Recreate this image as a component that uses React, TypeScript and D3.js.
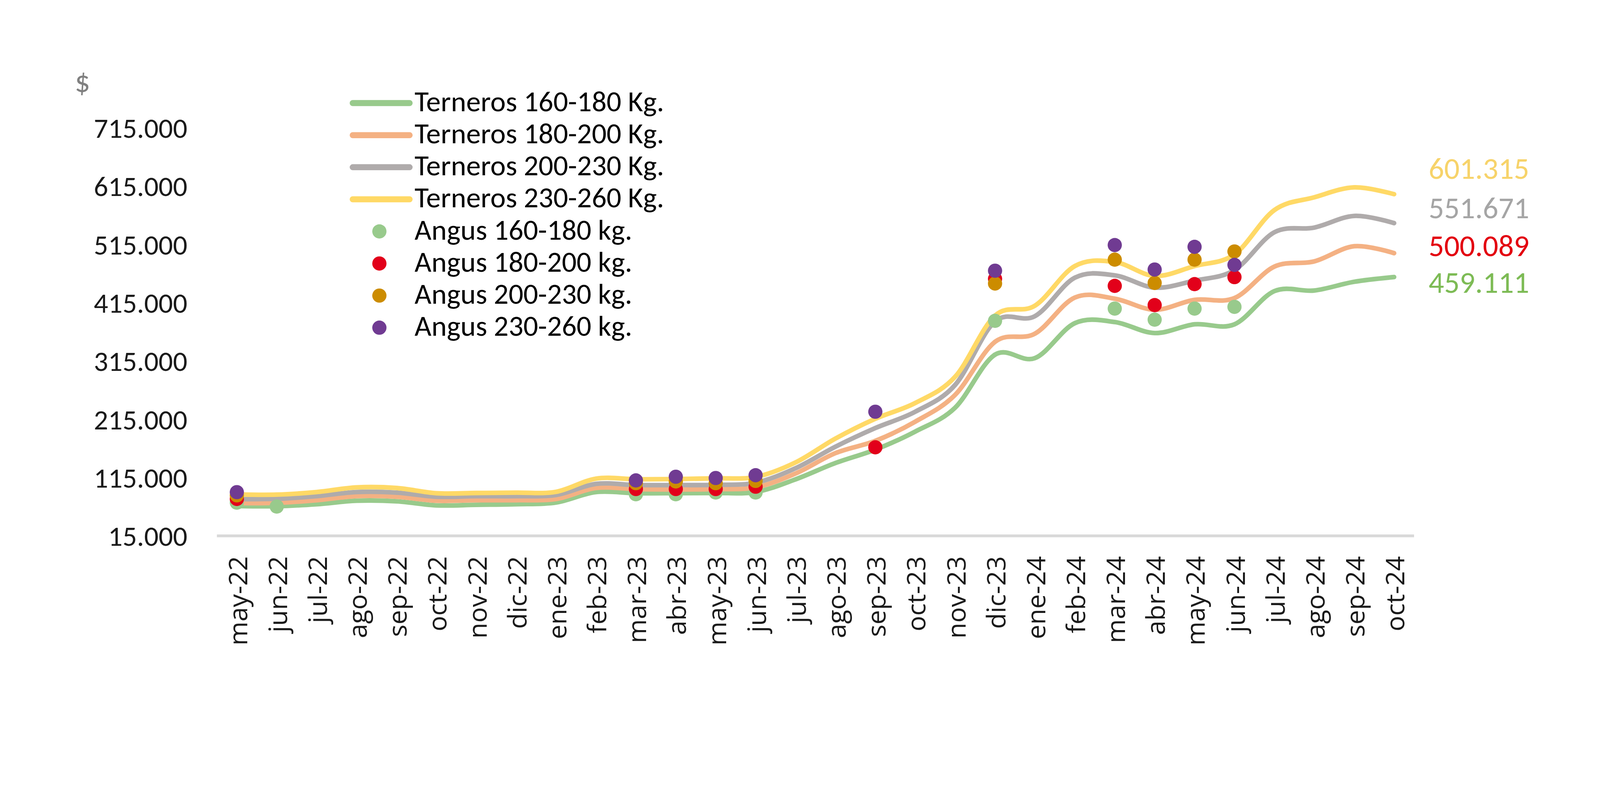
import { useRef, useEffect } from 'react';
import * as d3 from 'd3';

const months = [
  'may-22', 'jun-22', 'jul-22', 'ago-22', 'sep-22', 'oct-22', 'nov-22', 'dic-22',
  'ene-23', 'feb-23', 'mar-23', 'abr-23', 'may-23', 'jun-23', 'jul-23', 'ago-23',
  'sep-23', 'oct-23', 'nov-23', 'dic-23', 'ene-24', 'feb-24', 'mar-24', 'abr-24',
  'may-24', 'jun-24', 'jul-24', 'ago-24', 'sep-24', 'oct-24',
];

// precios Terneros (lineas suavizadas)
const terneros160 = [66300, 65900, 69300, 75300, 74300, 67300, 68300, 69300, 72300, 90200, 88200, 88200, 88600, 90200, 112000, 140000, 163000, 194000, 235000, 326000, 320000, 380000, 382000, 363000, 378000, 378000, 435000, 436000, 451000, 459111];
const terneros180 = [71300, 71700, 76200, 83200, 82200, 75300, 76200, 76200, 78200, 97200, 95200, 94600, 95200, 98200, 122000, 157000, 178000, 211000, 257000, 348000, 362000, 424000, 422000, 403000, 420000, 423000, 477000, 486000, 512000, 500089];
const terneros200 = [78200, 78600, 83200, 90200, 89200, 82200, 83200, 83200, 85200, 104200, 102200, 102200, 102600, 106200, 131000, 168000, 200000, 228000, 274000, 383000, 392000, 458000, 462000, 441000, 453000, 471000, 536000, 544000, 564000, 551671];
const terneros230 = [86200, 85800, 90200, 98200, 97200, 88200, 88600, 89200, 90600, 113200, 112200, 112500, 113700, 116100, 141000, 182000, 216000, 243000, 288000, 393000, 410000, 478000, 485000, 461000, 478000, 498000, 574000, 596000, 613000, 601315];

// precios Angus (solo puntos)
const angus160 = [72000, 65300, null, null, null, null, null, null, null, null, 86400, 86400, 89400, 89400, null, null, null, null, null, 384000, null, null, 405000, 386000, 405000, 408000, null, null, null, null];
const angus180 = [78400, null, null, null, null, null, null, null, null, null, 95400, 95400, 95400, 99400, null, null, 167000, null, null, 456000, null, null, 444000, 411000, 447000, 459000, null, null, null, null];
const angus200 = [84500, null, null, null, null, null, null, null, null, null, 105400, 108400, 105400, 109300, null, null, null, null, null, 448000, null, null, 489000, 449000, 489000, 503000, null, null, null, null];
const angus230 = [90000, null, null, null, null, null, null, null, null, null, 110200, 116500, 114300, 119100, null, null, 228000, null, null, 470000, null, null, 514000, 472000, 511000, 480000, null, null, null, null];

const yTicks = [15000, 115000, 215000, 315000, 415000, 515000, 615000, 715000];

const lineSeries = [
  { name: 'Terneros 160-180 Kg.', values: terneros160, color: '#98ca8c', label: '#7dbb55' },
  { name: 'Terneros 180-200 Kg.', values: terneros180, color: '#f4b183', label: '#e3000f' },
  { name: 'Terneros 200-230 Kg.', values: terneros200, color: '#afabab', label: '#a5a5a5' },
  { name: 'Terneros 230-260 Kg.', values: terneros230, color: '#ffd966', label: '#f7d36a' },
];

const dotSeries = [
  { name: 'Angus 160-180 kg.', values: angus160, color: '#98ca8c' },
  { name: 'Angus 180-200 kg.', values: angus180, color: '#e2001a' },
  { name: 'Angus 200-230 kg.', values: angus200, color: '#cc8c00' },
  { name: 'Angus 230-260 kg.', values: angus230, color: '#703b92' },
];

// posiciones verticales de las etiquetas finales (a la derecha)
const endLabelY = [795, 692, 585, 474];

const W = 4500;
const H = 2021;
const narrow = "Carlito, 'Liberation Sans Narrow', 'DejaVu Sans Condensed', 'Liberation Sans', sans-serif";

const esAR = d3.formatLocale({ decimal: ',', thousands: '.', grouping: [3], currency: ['$', ''] });
const fmt = esAR.format(',d');

const App = () => {
  const svgRef = useRef(null);

  useEffect(() => {
    const svg = d3.select(svgRef.current);
    svg.selectAll('*').remove();

    const x = d3.scalePoint().domain(months).range([610, 3977]).padding(0.5);
    const y = d3.scaleLinear().domain([15000, 715000]).range([1508, 360]);

    // eje x
    svg.append('line')
      .attr('x1', 610).attr('x2', 3977)
      .attr('y1', y(15000)).attr('y2', y(15000))
      .attr('stroke', '#d9d9d9').attr('stroke-width', 8);

    // etiquetas eje y
    svg.append('g')
      .selectAll('text')
      .data(yTicks)
      .join('text')
      .attr('x', 527)
      .attr('y', (d) => y(d) + 28)
      .attr('text-anchor', 'end')
      .style('font-family', narrow)
      .style('font-size', '80px')
      .attr('fill', '#1a1a1a')
      .text((d) => fmt(d));

    svg.append('text')
      .attr('x', 210).attr('y', 258)
      .style('font-family', narrow)
      .style('font-size', '86px')
      .attr('fill', '#808080')
      .text('$');

    // etiquetas eje x
    svg.append('g')
      .selectAll('text')
      .data(months)
      .join('text')
      .attr('transform', (d) => `translate(${x(d) + 29},1565) rotate(-90)`)
      .attr('text-anchor', 'end')
      .style('font-family', "'Open Sans', sans-serif")
      .style('font-size', '73px')
      .attr('fill', '#1a1a1a')
      .text((d) => d);

    // lineas
    const line = d3.line()
      .x((_, i) => x(months[i]))
      .y((d) => y(d))
      .curve(d3.curveCardinal.tension(0));

    svg.append('g')
      .selectAll('path')
      .data(lineSeries)
      .join('path')
      .attr('d', (s) => line(s.values))
      .attr('fill', 'none')
      .attr('stroke', (s) => s.color)
      .attr('stroke-width', 13)
      .attr('stroke-linecap', 'round')
      .attr('stroke-linejoin', 'round');

    // puntos Angus
    dotSeries.forEach((s) => {
      svg.append('g')
        .selectAll('circle')
        .data(s.values.map((v, i) => ({ v, m: months[i] })).filter((d) => d.v != null))
        .join('circle')
        .attr('cx', (d) => x(d.m))
        .attr('cy', (d) => y(d.v))
        .attr('r', 20)
        .attr('fill', s.color);
    });

    // valores finales
    svg.append('g')
      .selectAll('text')
      .data(lineSeries)
      .join('text')
      .attr('x', 4018)
      .attr('y', (s, i) => endLabelY[i] + 29)
      .style('font-family', narrow)
      .style('font-size', '86px')
      .attr('fill', (s) => s.label)
      .text((s) => fmt(s.values[s.values.length - 1]));

    // leyenda
    const legendY = (i) => 290 + i * 90.3;
    const legend = svg.append('g');
    lineSeries.forEach((s, i) => {
      legend.append('line')
        .attr('x1', 992).attr('x2', 1152)
        .attr('y1', legendY(i)).attr('y2', legendY(i))
        .attr('stroke', s.color).attr('stroke-width', 17)
        .attr('stroke-linecap', 'round');
      legend.append('text')
        .attr('x', 1166).attr('y', legendY(i) + 23)
        .style('font-family', narrow)
        .style('font-size', '82px')
        .attr('fill', '#000')
        .text(s.name);
    });
    dotSeries.forEach((s, i) => {
      legend.append('circle')
        .attr('cx', 1067).attr('cy', legendY(i + 4))
        .attr('r', 20)
        .attr('fill', s.color);
      legend.append('text')
        .attr('x', 1166).attr('y', legendY(i + 4) + 23)
        .style('font-family', narrow)
        .style('font-size', '82px')
        .attr('fill', '#000')
        .text(s.name);
    });
  }, []);

  return (
    <svg
      ref={svgRef}
      viewBox={`0 0 ${W} ${H}`}
      preserveAspectRatio="xMinYMin meet"
      style={{ position: 'absolute', left: 0, top: 0, width: '100vw', height: '100vh', background: '#fff', display: 'block' }}
    />
  );
};

export default App;
